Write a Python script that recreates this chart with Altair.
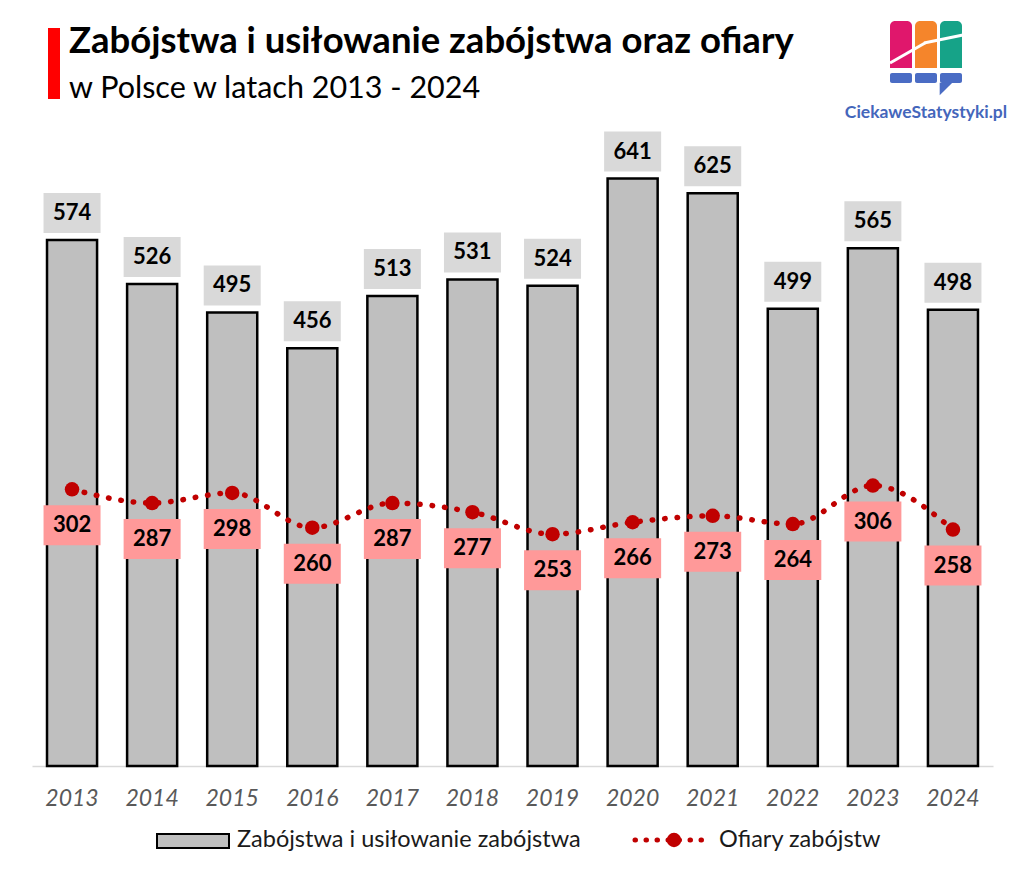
import altair as alt
import pandas as pd

years = ["2013", "2014", "2015", "2016", "2017", "2018", "2019", "2020", "2021", "2022", "2023", "2024"]
crimes = [574, 526, 495, 456, 513, 531, 524, 641, 625, 499, 565, 498]
victims = [302, 287, 298, 260, 287, 277, 253, 266, 273, 264, 306, 258]

title_text = "Zabójstwa i usiłowanie zabójstwa oraz ofiary"
subtitle_text = "w Polsce w latach 2013 - 2024"
brand_text = "CiekaweStatystyki.pl"
legend_labels = ["Zabójstwa i usiłowanie zabójstwa", "Ofiary zabójstw"]

df = pd.DataFrame({"year": years, "crimes": crimes, "victims": victims})

FONT = "Lato"
W, H = 961, 642
YMAX = 700.6

xenc = alt.X("year:N", sort=years, title=None,
             scale=alt.Scale(paddingInner=0.375, paddingOuter=0.1875),
             axis=alt.Axis(labelAngle=0, ticks=False, domainColor="#d9d9d9", domainWidth=1.5,
                           labelFont=FONT, labelFontStyle="italic", labelFontSize=23,
                           labelColor="#595959", labelPadding=21))
yscale = alt.Scale(domain=[0, YMAX], nice=False, zero=True)

base = alt.Chart(df)

bars = base.mark_bar(fill="#bfbfbf", stroke="#000000", strokeWidth=2.5).encode(
    x=xenc, y=alt.Y("crimes:Q", scale=yscale, axis=None))

bar_boxes = base.mark_rect(width=57, height=40, yOffset=-27, fill="#d9d9d9").encode(
    x=alt.X("year:N", sort=years), y=alt.Y("crimes:Q", scale=yscale))
bar_text = base.mark_text(font=FONT, fontWeight="bold", fontSize=22, dy=-27,
                          baseline="middle", color="#000000").encode(
    x=alt.X("year:N", sort=years), y=alt.Y("crimes:Q", scale=yscale), text="crimes:Q")

line = base.mark_line(interpolate="monotone", color="#c00000", strokeWidth=5.5,
                      strokeDash=[0.5, 12], strokeCap="round").encode(
    x=alt.X("year:N", sort=years), y=alt.Y("victims:Q", scale=yscale))
points = base.mark_circle(size=210, color="#c00000", opacity=1).encode(
    x=alt.X("year:N", sort=years), y=alt.Y("victims:Q", scale=yscale))
line_boxes = base.mark_rect(width=57, height=40, yOffset=36, fill="#ff9999").encode(
    x=alt.X("year:N", sort=years), y=alt.Y("victims:Q", scale=yscale))
line_text = base.mark_text(font=FONT, fontWeight="bold", fontSize=22, dy=36,
                           baseline="middle", color="#000000").encode(
    x=alt.X("year:N", sort=years), y=alt.Y("victims:Q", scale=yscale), text="victims:Q")

# --- Title area ---
one = pd.DataFrame({"a": [0]})
red_bar = alt.Chart(one).mark_rect(color="#ff0000").encode(
    x=alt.value(16), x2=alt.value(28), y=alt.value(-96), y2=alt.value(-25))
title = alt.Chart(pd.DataFrame({"t": [title_text]})).mark_text(
    font=FONT, fontWeight="bold", fontSize=36.5, align="left", baseline="alphabetic", color="#000000"
).encode(x=alt.value(37), y=alt.value(-71), text="t:N")
subtitle = alt.Chart(pd.DataFrame({"t": [subtitle_text]})).mark_text(
    font=FONT, fontSize=30.5, align="left", baseline="alphabetic", color="#000000"
).encode(x=alt.value(37), y=alt.value(-26), text="t:N")

# --- Logo ---
logo_cols = pd.DataFrame({"x0": [858, 883, 908], "x1": [880, 905, 930],
                          "c": ["#e0176c", "#f5852b", "#16a388"]})
logo_top = alt.Chart(logo_cols).mark_rect(cornerRadiusTopLeft=5, cornerRadiusTopRight=5).encode(
    x=alt.X("x0:Q", scale=None), x2="x1:Q", y=alt.value(-103), y2=alt.value(-56),
    color=alt.Color("c:N", scale=None))
logo_bottom = alt.Chart(logo_cols).mark_rect(color="#4a6cc4", cornerRadius=2).encode(
    x=alt.X("x0:Q", scale=None), x2="x1:Q", y=alt.value(-51), y2=alt.value(-41))
logo_curve1 = alt.Chart(one).mark_rule(color="white", strokeWidth=3).encode(
    x=alt.value(858), y=alt.value(-61), x2=alt.value(893), y2=alt.value(-81))
logo_curve2 = alt.Chart(one).mark_rule(color="white", strokeWidth=3).encode(
    x=alt.value(892), y=alt.value(-81), x2=alt.value(931), y2=alt.value(-89))
logo_tri = alt.Chart(one).mark_point(shape="M-1,-1 L1,-1 L-1,1 Z", filled=True, opacity=1,
                                     color="#4a6cc4", size=160).encode(
    x=alt.value(914), y=alt.value(-35))
brand = alt.Chart(pd.DataFrame({"t": [brand_text]})).mark_text(
    font=FONT, fontWeight="bold", fontSize=17.5, align="center", baseline="alphabetic", color="#4466bb"
).encode(x=alt.value(894), y=alt.value(-6), text="t:N")

# --- Legend ---
leg_rect = alt.Chart(one).mark_rect(fill="#bfbfbf", stroke="#000000", strokeWidth=2).encode(
    x=alt.value(125), x2=alt.value(197), y=alt.value(710), y2=alt.value(724))
leg_t1 = alt.Chart(pd.DataFrame({"t": [legend_labels[0]]})).mark_text(
    font=FONT, fontSize=23.5, align="left", baseline="middle", color="#1a1a1a"
).encode(x=alt.value(205), y=alt.value(716), text="t:N")
leg_line = alt.Chart(one).mark_rule(color="#c00000", strokeWidth=5, strokeDash=[0.5, 10.5],
                                    strokeCap="round").encode(
    x=alt.value(603), x2=alt.value(670), y=alt.value(716))
leg_dot = alt.Chart(one).mark_circle(size=210, color="#c00000", opacity=1).encode(
    x=alt.value(642), y=alt.value(716))
leg_t2 = alt.Chart(pd.DataFrame({"t": [legend_labels[1]]})).mark_text(
    font=FONT, fontSize=23.5, align="left", baseline="middle", color="#1a1a1a"
).encode(x=alt.value(687), y=alt.value(716), text="t:N")

chart = alt.layer(
    bars, bar_boxes, bar_text, line, points, line_boxes, line_text,
    red_bar, title, subtitle,
    logo_top, logo_bottom, logo_curve1, logo_curve2, logo_tri, brand,
    leg_rect, leg_t1, leg_line, leg_dot, leg_t2,
).resolve_scale(x="shared").properties(
    width=W, height=H,
    autosize=alt.AutoSizeParams(type="none"),
    padding={"left": 32, "top": 124, "right": 31, "bottom": 116},
    background="white",
).configure_view(stroke=None)

chart.save("out.html", embed_options={"renderer": "svg", "actions": False})
